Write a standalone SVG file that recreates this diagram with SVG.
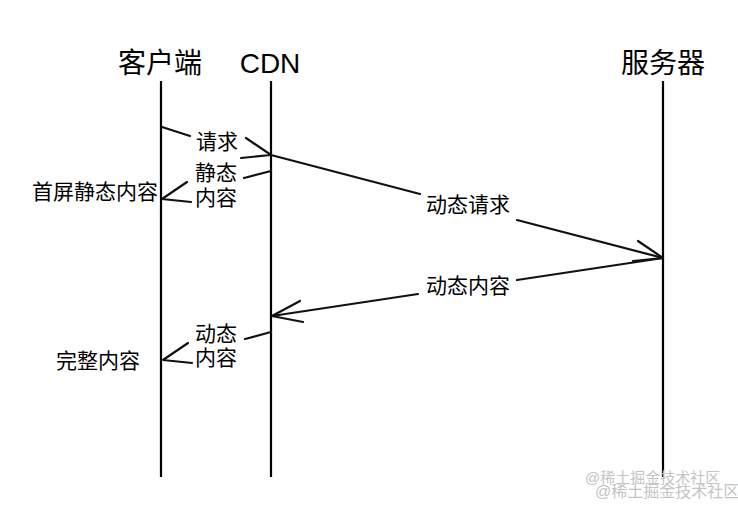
<svg xmlns="http://www.w3.org/2000/svg" width="738" height="505" viewBox="0 0 738 505">
<style>
.ll{stroke:#000;stroke-width:2.2;fill:none}
.ln{stroke:#111;stroke-width:2.2;fill:none;stroke-linecap:round;stroke-linejoin:round}
.hd{font-family:"Liberation Sans","Noto Sans CJK SC",sans-serif;font-size:28px;fill:#000;text-anchor:middle}
.lb{font-family:"Liberation Sans","Noto Sans CJK SC",sans-serif;font-size:21px;fill:#000;text-anchor:middle}
.wm{font-family:"Liberation Sans","Noto Sans CJK SC",sans-serif;fill:#c4c4c4}
</style>
<rect width="738" height="505" fill="#fff"/>
<g id="client">
<text class="hd" x="160" y="73">客户端</text>
<line class="ll" x1="161" y1="81" x2="161" y2="477"/>
</g>
<g id="cdn">
<text class="hd" x="270" y="73">CDN</text>
<line class="ll" x1="271" y1="81" x2="271" y2="477"/>
</g>
<g id="server">
<text class="hd" x="663" y="73">服务器</text>
<line class="ll" x1="663" y1="81" x2="663" y2="477"/>
</g>
<g id="connectors">
<path class="ln" d="M162,127 L190,136"/>
<path class="ln" d="M246,138 L271,155 L241,158"/>
<text class="lb" x="217" y="149">请求</text>
<path class="ln" d="M271,155 L420,194 M517,220 L663,258"/>
<path class="ln" d="M638,241 L663,258 L633,261"/>
<text class="lb" x="468" y="212">动态请求</text>
<path class="ln" d="M271,171 L244,178"/>
<path class="ln" d="M187,182 L162,199 L191,202"/>
<text class="lb" x="216" y="180">静态</text>
<text class="lb" x="216" y="205">内容</text>
<text class="lb" x="95" y="199">首屏静态内容</text>
<path class="ln" d="M663,258 L517,280 M418,294 L272,316"/>
<path class="ln" d="M300,301 L272,316 L303,322"/>
<text class="lb" x="468" y="293">动态内容</text>
<path class="ln" d="M271,332 L245,339"/>
<path class="ln" d="M188,343 L163,360 L192,363"/>
<text class="lb" x="216" y="341">动态</text>
<text class="lb" x="216" y="365">内容</text>
<text class="lb" x="98" y="368">完整内容</text>
</g>
<text class="wm" x="585" y="483" font-size="15">@稀土掘金技术社区</text>
<text class="wm" x="595" y="497" font-size="16">@稀土掘金技术社区</text>
</svg>
